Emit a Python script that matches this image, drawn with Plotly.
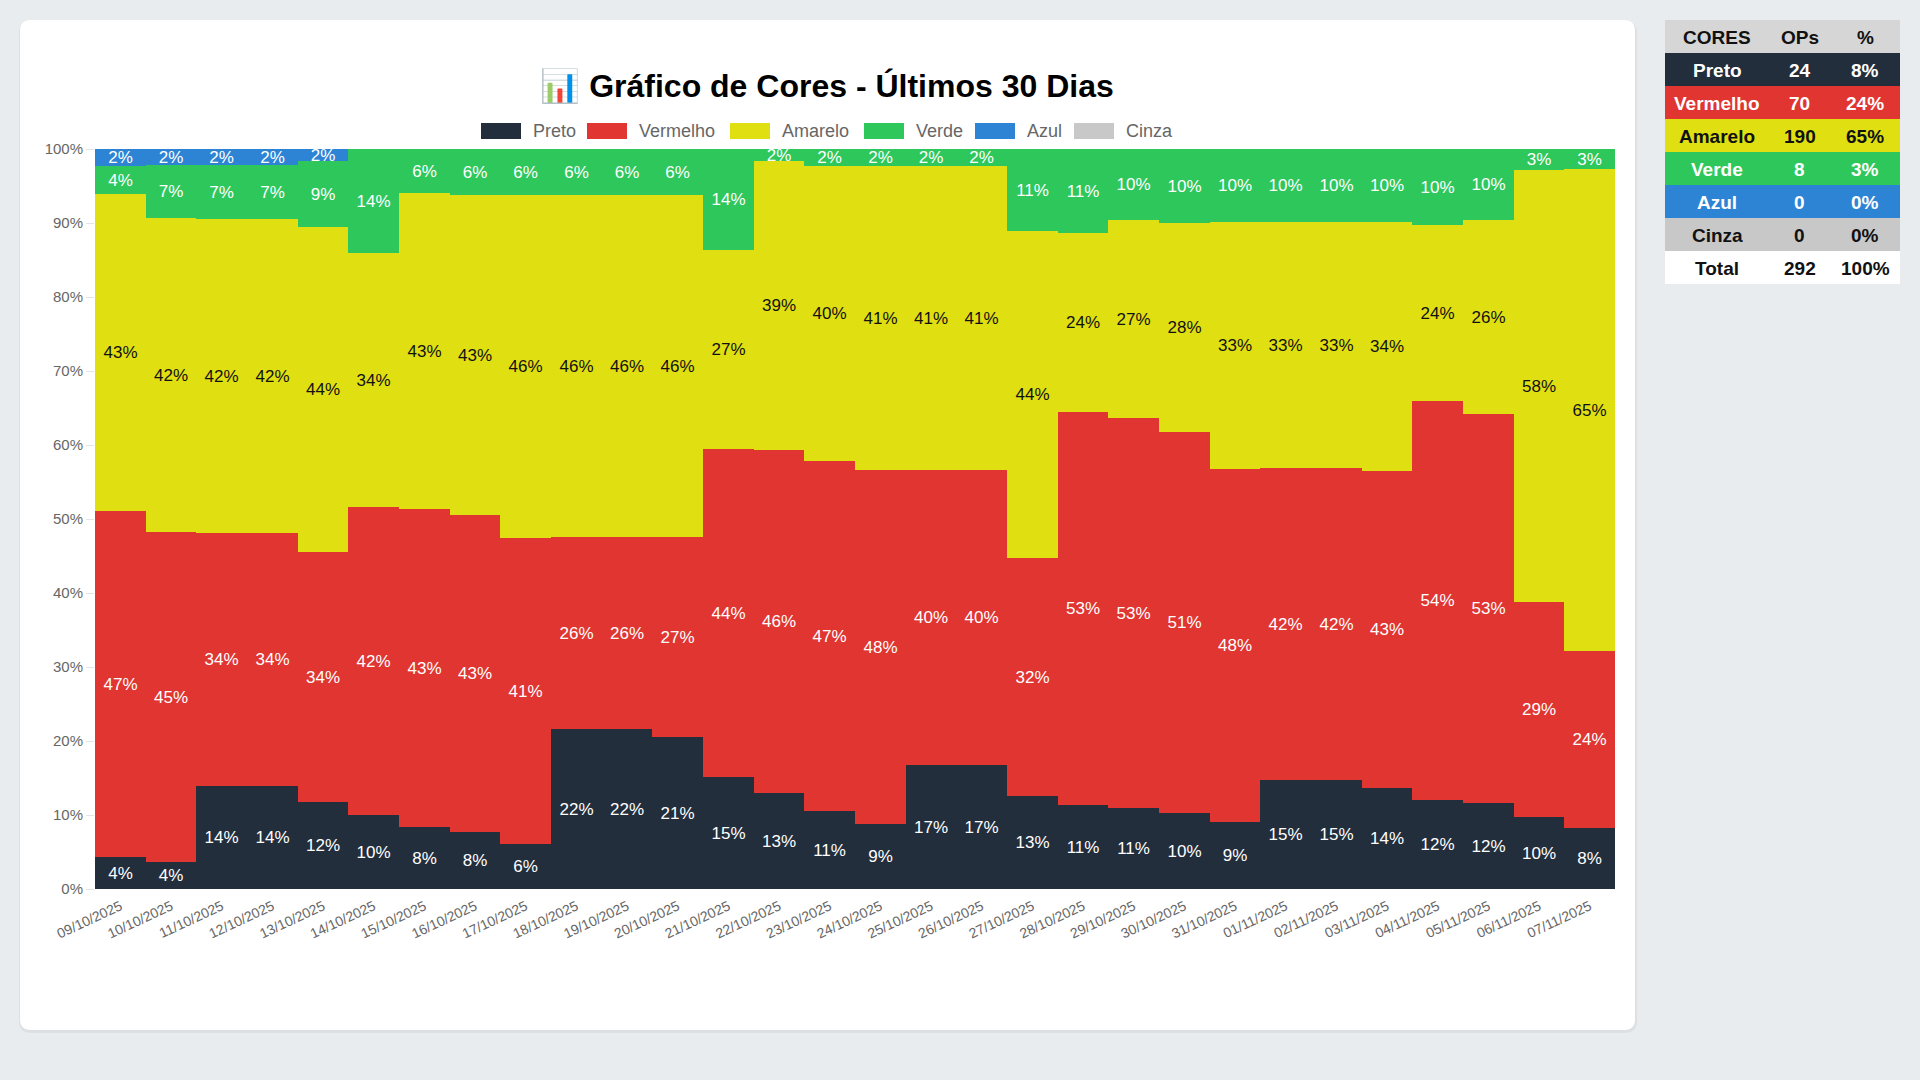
import plotly.graph_objects as go

# dias do gráfico
dates = ["09/10/2025", "10/10/2025", "11/10/2025", "12/10/2025", "13/10/2025", "14/10/2025",
         "15/10/2025", "16/10/2025", "17/10/2025", "18/10/2025", "19/10/2025", "20/10/2025",
         "21/10/2025", "22/10/2025", "23/10/2025", "24/10/2025", "25/10/2025", "26/10/2025",
         "27/10/2025", "28/10/2025", "29/10/2025", "30/10/2025", "31/10/2025", "01/11/2025",
         "02/11/2025", "03/11/2025", "04/11/2025", "05/11/2025", "06/11/2025", "07/11/2025"]

# percentual diário de cada cor
preto = [4.3, 3.6, 13.9, 13.9, 11.8, 10.0, 8.4, 7.7, 6.1, 21.6, 21.6, 20.6, 15.1, 13.0, 10.6,
         8.8, 16.7, 16.7, 12.6, 11.3, 10.9, 10.3, 9.0, 14.7, 14.7, 13.6, 12.0, 11.6, 9.7, 8.2]
vermelho = [46.8, 44.7, 34.2, 34.2, 33.8, 41.6, 42.9, 42.9, 41.4, 26.0, 26.0, 27.0, 44.4, 46.3, 47.2,
            47.8, 39.9, 39.9, 32.1, 53.2, 52.8, 51.4, 47.8, 42.2, 42.2, 42.9, 54.0, 52.6, 29.1, 24.0]
amarelo = [42.8, 42.4, 42.4, 42.4, 43.8, 34.4, 42.7, 43.2, 46.3, 46.2, 46.2, 46.2, 26.9, 39.1, 39.9,
           41.1, 41.1, 41.1, 44.2, 24.2, 26.7, 28.3, 33.4, 33.3, 33.3, 33.7, 23.7, 26.2, 58.3, 65.1]
verde = [3.8, 7.2, 7.3, 7.3, 9.0, 14.0, 6.0, 6.2, 6.2, 6.2, 6.2, 6.2, 13.6, 1.6, 2.3,
         2.3, 2.3, 2.3, 11.1, 11.3, 9.6, 10.0, 9.8, 9.8, 9.8, 9.8, 10.3, 9.6, 2.9, 2.7]
azul = [2.3, 2.1, 2.2, 2.2, 1.6, 0, 0, 0, 0, 0, 0, 0, 0, 0, 0,
        0, 0, 0, 0, 0, 0, 0, 0, 0, 0, 0, 0, 0, 0, 0]
cinza = [0] * 30

# tabela lateral
table_names = ["Preto", "Vermelho", "Amarelo", "Verde", "Azul", "Cinza"]
table_ops = [24, 70, 190, 8, 0, 0]

series = [
    ("Preto", preto, "#232e3d", "white"),
    ("Vermelho", vermelho, "#e03530", "white"),
    ("Amarelo", amarelo, "#e0df12", "#111111"),
    ("Verde", verde, "#2ec75c", "white"),
    ("Azul", azul, "#2d84d5", "white"),
    ("Cinza", cinza, "#c8c8c8", "#111111"),
]

FONT = "Liberation Sans, Arial, Helvetica, sans-serif"

# área do gráfico em pixels
PL, PR, PT, PB = 95, 1615, 149, 889


def px(x):
    return (x - PL) / (PR - PL)


def py(y):
    return (PB - y) / (PB - PT)


def rounded_path(x0, y0, x1, y1, r):
    pts = [
        ("M", [(x0 + r, y0)]), ("L", [(x1 - r, y0)]), ("Q", [(x1, y0), (x1, y0 + r)]),
        ("L", [(x1, y1 - r)]), ("Q", [(x1, y1), (x1 - r, y1)]), ("L", [(x0 + r, y1)]),
        ("Q", [(x0, y1), (x0, y1 - r)]), ("L", [(x0, y0 + r)]), ("Q", [(x0, y0), (x0 + r, y0)]),
    ]
    s = ""
    for cmd, pp in pts:
        s += cmd + " " + " ".join(f"{px(a):.5f},{py(b):.5f}" for a, b in pp) + " "
    return s + "Z"


fig = go.Figure()

for name, vals, color, tcolor in series:
    fig.add_trace(go.Bar(
        x=dates,
        y=vals,
        name=name,
        marker=dict(color=color, line=dict(width=0)),
        text=[f"{v:.0f}%" if v > 0 else "" for v in vals],
        textposition="inside",
        insidetextanchor="middle",
        textangle=0,
        textfont=dict(family=FONT, size=17, color=tcolor),
        hovertemplate=name + ": %{y:.1f}%<extra></extra>",
        showlegend=False,
    ))

shapes = []
annotations = []

# cartão branco com sombra
shapes.append(dict(type="path", xref="paper", yref="paper", layer="below",
                   path=rounded_path(19, 21, 1637, 1033, 12),
                   fillcolor="rgba(0,0,0,0.05)", line=dict(width=0)))
shapes.append(dict(type="path", xref="paper", yref="paper", layer="below",
                   path=rounded_path(20, 20, 1635, 1030, 11),
                   fillcolor="white", line=dict(width=0)))

# legenda personalizada
legend_x = [481, 587, 730, 864, 975, 1074]
for (name, vals, color, tcolor), lx in zip(series, legend_x):
    shapes.append(dict(type="rect", xref="paper", yref="paper",
                       x0=px(lx), x1=px(lx + 40), y0=py(139), y1=py(123),
                       fillcolor=color, line=dict(width=0)))
    annotations.append(dict(xref="paper", yref="paper", x=px(lx + 50), y=py(131),
                            text=name, showarrow=False, xanchor="left", yanchor="middle",
                            font=dict(family=FONT, size=18, color="#666666")))

# tabela de resumo
total = sum(table_ops)
rows = [("CORES", "OPs", "%", "#d6d6d6", "#111111")]
for (name, vals, color, tcolor), ops in zip(series, table_ops):
    rows.append((name, str(ops), f"{ops / total * 100:.0f}%", color, tcolor))
rows.append(("Total", str(total), "100%", "white", "#111111"))

TX0, TX1, TY0, RH = 1665, 1900, 20, 33
col_x = [1717, 1800, 1865]
for i, (a, b, c, bg, fg) in enumerate(rows):
    y0 = TY0 + i * RH
    shapes.append(dict(type="rect", xref="paper", yref="paper",
                       x0=px(TX0), x1=px(TX1), y0=py(y0 + RH), y1=py(y0),
                       fillcolor=bg, line=dict(width=0)))
    for cx, txt in zip(col_x, (a, b, c)):
        annotations.append(dict(xref="paper", yref="paper", x=px(cx), y=py(y0 + RH / 2 + 1),
                                text=f"<b>{txt}</b>", showarrow=False,
                                xanchor="center", yanchor="middle",
                                font=dict(family=FONT, size=19, color=fg)))

fig.update_layout(
    width=1920,
    height=1080,
    barmode="stack",
    barnorm="percent",
    bargap=0,
    paper_bgcolor="#e9ecef",
    plot_bgcolor="white",
    margin=dict(l=PL, r=1920 - PR, t=PT, b=1080 - PB, pad=0),
    title=dict(text="📊 Gráfico de Cores - Últimos 30 Dias",
               x=827 / 1920, xref="container", xanchor="center",
               y=1 - 86 / 1080, yref="container", yanchor="middle",
               font=dict(family=FONT, size=32, color="black", weight="bold")),
    uniformtext=dict(minsize=17, mode="show"),
    shapes=shapes,
    annotations=annotations,
    showlegend=False,
)

fig.update_xaxes(
    type="category",
    tickmode="array",
    tickvals=dates,
    ticktext=dates,
    tickangle=-25,
    ticks="outside",
    ticklen=3,
    tickcolor="rgba(0,0,0,0)",
    tickfont=dict(family=FONT, size=14, color="#666666"),
    showgrid=False,
    showline=False,
)
fig.update_yaxes(
    range=[0, 100],
    tickmode="linear",
    tick0=0,
    dtick=10,
    ticksuffix="%",
    ticks="outside",
    ticklen=8,
    tickcolor="#e4e4e4",
    tickfont=dict(family=FONT, size=15, color="#666666"),
    showgrid=True,
    gridcolor="#eeeeee",
    zeroline=False,
    showline=False,
)

fig.write_html("out.html", config={"displayModeBar": False},
               post_script="document.body.style.margin='0';document.body.style.background='#e9ecef';")
